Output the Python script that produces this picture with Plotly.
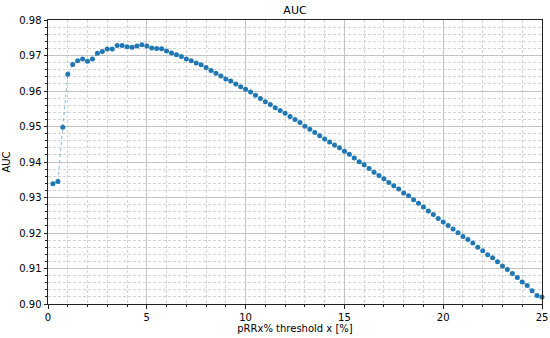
import numpy as np
import plotly.graph_objects as go

thresholds = [0.25 * k for k in range(1, 101)]
auc = [
    0.9339, 0.9345, 0.9498, 0.9647, 0.9675, 0.9685, 0.9690, 0.9684, 0.9690, 0.9706,
    0.9711, 0.9718, 0.9718, 0.9728, 0.9728, 0.9725, 0.9723, 0.9727, 0.9730, 0.9727,
    0.9721, 0.9720, 0.9719, 0.9713, 0.9707, 0.9702, 0.9697, 0.9690, 0.9685, 0.9679,
    0.9674, 0.9666, 0.9658, 0.9650, 0.9642, 0.9634, 0.9628, 0.9620, 0.9612, 0.9605,
    0.9597, 0.9588, 0.9579, 0.9570, 0.9562, 0.9553, 0.9545, 0.9537, 0.9528, 0.9520,
    0.9511, 0.9501, 0.9492, 0.9483, 0.9474, 0.9465, 0.9456, 0.9448, 0.9440, 0.9430,
    0.9422, 0.9411, 0.9401, 0.9392, 0.9382, 0.9371, 0.9362, 0.9353, 0.9342, 0.9333,
    0.9324, 0.9313, 0.9305, 0.9294, 0.9284, 0.9273, 0.9262, 0.9252, 0.9241, 0.9231,
    0.9221, 0.9211, 0.9201, 0.9190, 0.9182, 0.9172, 0.9160, 0.9150, 0.9139, 0.9130,
    0.9119, 0.9107, 0.9097, 0.9086, 0.9075, 0.9062, 0.9052, 0.9037, 0.9024, 0.9020,
]
x_ticks = [0, 5, 10, 15, 20, 25]
y_ticks = [0.90, 0.91, 0.92, 0.93, 0.94, 0.95, 0.96, 0.97, 0.98]
y_ticklabels = ["0.90", "0.91", "0.92", "0.93", "0.94", "0.95", "0.96", "0.97", "0.98"]

FONT = "DejaVu Sans"

fig = go.Figure()
fig.add_trace(go.Scatter(
    x=thresholds, y=auc, mode="lines+markers",
    line=dict(color="rgba(31,119,180,0.55)", width=1, dash="dot"),
    marker=dict(color="#1f77b4", size=5),
    showlegend=False, cliponaxis=False,
))

axis_common = dict(
    showline=True, linecolor="#222222", linewidth=1, mirror=True,
    ticks="outside", ticklen=3.5, tickwidth=1, tickcolor="#222222",
    showgrid=True, gridcolor="#c4c4c4", gridwidth=1,
    zeroline=False, automargin=False,
    tickfont=dict(family=FONT, size=10, color="black"),
)

minor_grid = dict(showgrid=True, gridcolor="#d4d4d4", griddash="3px,2px", gridwidth=1,
                  ticks="outside", ticklen=2, tickcolor="#222222")

fig.update_xaxes(
    range=[0, 25], tickvals=x_ticks, ticktext=[str(v) for v in x_ticks],
    title=dict(text="pRRx% threshold x [%]", font=dict(family=FONT, size=10, color="black"), standoff=3),
    minor=dict(dtick=1, **minor_grid),
    **axis_common,
)
fig.update_yaxes(
    range=[0.90, 0.98], tickvals=y_ticks, ticktext=y_ticklabels,
    title=dict(text="AUC", font=dict(family=FONT, size=10, color="black"), standoff=6),
    minor=dict(dtick=0.002, **minor_grid),
    **axis_common,
)

fig.update_layout(
    width=550, height=338,
    margin=dict(l=48, r=8, t=20, b=34),
    paper_bgcolor="white", plot_bgcolor="white",
    title=dict(text="AUC", x=0.5, xref="paper", xanchor="center",
               y=1 - 10 / 338, yref="container", yanchor="middle",
               font=dict(family=FONT, size=11, color="black")),
    font=dict(family=FONT),
)

fig.write_html(
    "out.html",
    config={"displayModeBar": False},
    post_script="document.body.style.margin='0';document.body.style.padding='0';document.body.style.overflow='hidden';",
)
